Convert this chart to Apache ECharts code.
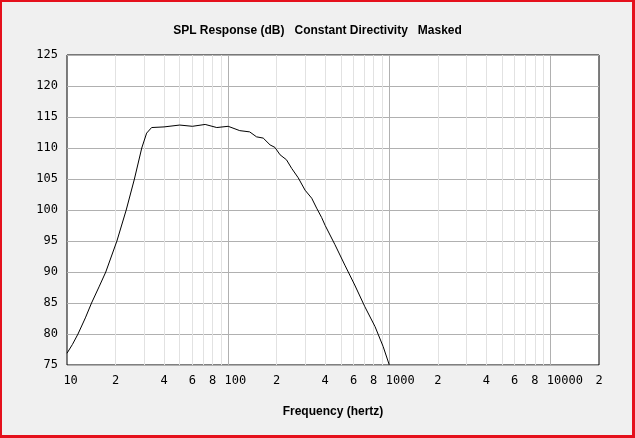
<!DOCTYPE html>
<html>
<head>
<meta charset="utf-8">
<script src="https://cdn.jsdelivr.net/npm/echarts@6/dist/echarts.min.js"></script>
<style>
  html, body { margin: 0; padding: 0; background: #f0f0f0; }
  #wrap { position: relative; width: 635px; height: 438px; }
  #chart { position: absolute; left: 0; top: 0; width: 635px; height: 438px; }
  #frame { position: absolute; left: 0; top: 0; width: 635px; height: 438px; box-sizing: border-box;
           border-style: solid; border-color: #e5101c; border-width: 2px 3px 3px 2px; pointer-events: none; }
</style>
</head>
<body>
<div id="wrap"><div id="chart"></div><div id="frame"></div></div>
<script>
// Frequency (Hz) and SPL (dB)
const freqHz = [10, 10.8, 11.7, 13, 14.2, 15.8, 17.4, 20.4, 23.3, 26.2, 29.1, 31.2, 33.5, 40, 50, 60, 72, 85, 100, 118, 136, 150, 165, 182, 195, 210, 230, 248, 272, 300, 330, 354, 380, 400, 460, 530, 610, 705, 815, 915, 1000];
const splDb  = [76.9, 78.3, 80, 82.6, 85, 87.6, 90, 95, 100, 105, 110, 112.4, 113.3, 113.4, 113.7, 113.5, 113.8, 113.3, 113.5, 112.8, 112.6, 111.8, 111.6, 110.5, 110.1, 108.9, 108.1, 106.7, 105.2, 103.2, 101.9, 100.3, 98.8, 97.5, 94.4, 91.1, 87.9, 84.4, 81.2, 78, 75];

// X tick labels (log axis)
const xLabelValues = [10, 20, 40, 60, 80, 100, 200, 400, 600, 800, 1000, 2000, 4000, 6000, 8000, 10000, 20000];
const decadeValues = [100, 1000, 10000];
const minorValues = [20,30,40,50,60,70,80,90, 200,300,400,500,600,700,800,900, 2000,3000,4000,5000,6000,7000,8000,9000];

const title = 'SPL Response (dB)   Constant Directivity   Masked';
const xName = 'Frequency (hertz)';

const chart = echarts.init(document.getElementById('chart'), null, { renderer: 'canvas' });

function xLabel(v) {
  const s = String(Math.round(v));
  if (s.length > 1 && /^10+$/.test(s)) {
    return ' '.repeat(s.length - 1) + s;
  }
  return s.charAt(0);
}

const data = freqHz.map((f, i) => [f, splDb[i]]);

chart.setOption({
  backgroundColor: '#f0f0f0',
  animation: false,
  title: {
    text: title,
    left: 'center',
    top: 20,
    textStyle: { fontFamily: 'Liberation Sans', fontWeight: 'bold', fontSize: 12, color: '#000' }
  },
  grid: {
    left: 67, right: 36, top: 55, bottom: 73,
    show: true, backgroundColor: '#ffffff', borderColor: '#000000', borderWidth: 1
  },
  xAxis: {
    type: 'log', logBase: 10, min: 10, max: 20000,
    name: xName, nameLocation: 'middle', nameGap: 41,
    nameTextStyle: { fontFamily: 'Liberation Sans', fontWeight: 'bold', fontSize: 12, color: '#000' },
    axisLine: { show: false },
    axisTick: { show: false },
    splitLine: { show: false },
    minorTick: { show: false },
    axisLabel: {
      customValues: xLabelValues,
      formatter: xLabel,
      margin: 10,
      fontFamily: 'DejaVu Sans Mono', fontSize: 12, color: '#000'
    }
  },
  yAxis: {
    type: 'value', min: 75, max: 125, interval: 5,
    axisLine: { show: false },
    axisTick: { show: false },
    axisLabel: { margin: 9, fontFamily: 'DejaVu Sans Mono', fontSize: 12, color: '#000' },
    splitLine: { show: true, lineStyle: { color: '#b0b0b0', width: 1 } }
  },
  series: [
    {
      type: 'line', name: 'minor', data: [], silent: true, z: 1,
      markLine: {
        silent: true, symbol: 'none', label: { show: false }, z: 1,
        lineStyle: { color: '#e2e2e2', width: 1, type: 'solid' },
        data: minorValues.map(v => ({ xAxis: v }))
      }
    },
    {
      type: 'line', name: 'major', data: [], silent: true, z: 1,
      markLine: {
        silent: true, symbol: 'none', label: { show: false }, z: 1,
        lineStyle: { color: '#b0b0b0', width: 1, type: 'solid' },
        data: decadeValues.map(v => ({ xAxis: v }))
      }
    },
    {
      type: 'line', name: 'SPL', data: data, z: 10,
      showSymbol: false, symbol: 'none',
      lineStyle: { color: '#000', width: 1 },
      itemStyle: { color: '#000' },
      clip: true
    }
  ]
});
</script>
</body>
</html>
